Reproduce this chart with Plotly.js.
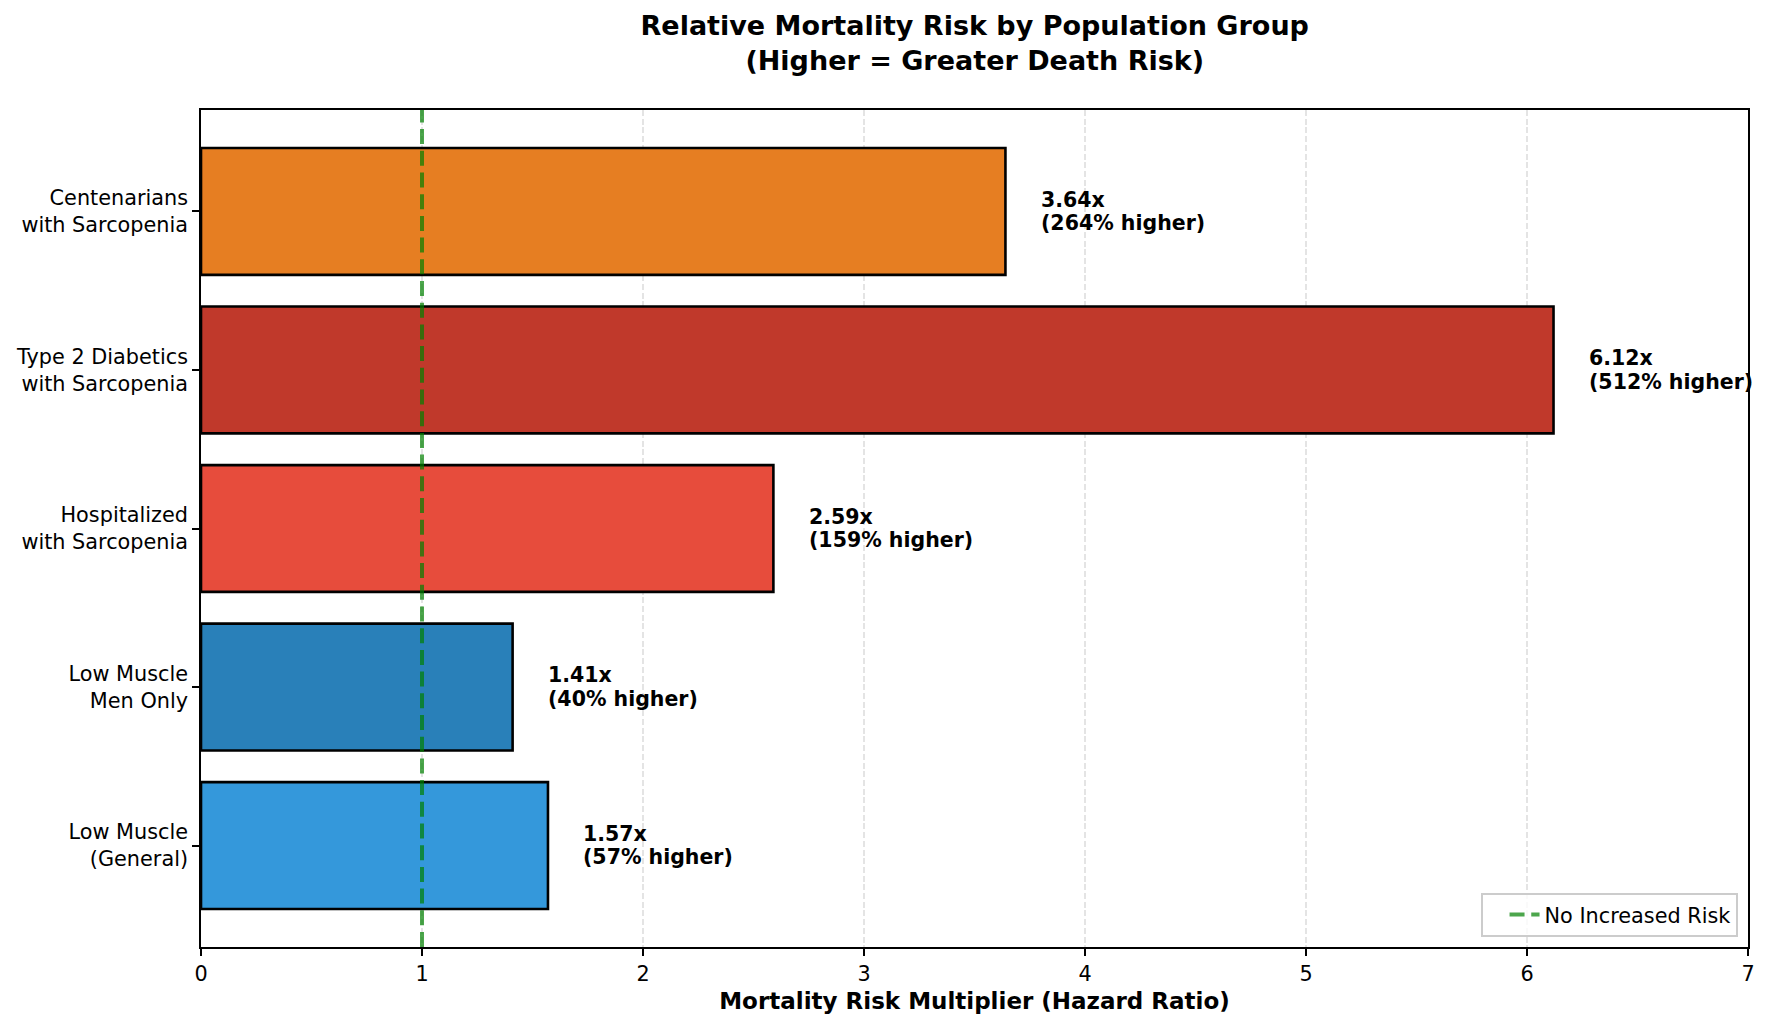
<!DOCTYPE html>
<html>
<head>
<meta charset="utf-8">
<script src="https://cdn.plot.ly/plotly-3.0.1.min.js"></script>
<style>
  html, body { margin: 0; padding: 0; background: #fff; }
  #chart { width: 1770px; height: 1029px; }
</style>
</head>
<body>
<div id="chart"></div>
<script>
// Population groups, listed bottom to top
const groups = [
  "Low Muscle<br>(General)",
  "Low Muscle<br>Men Only",
  "Hospitalized<br>with Sarcopenia",
  "Type 2 Diabetics<br>with Sarcopenia",
  "Centenarians<br>with Sarcopenia"
];
// Hazard ratios for each group
const hazardRatios = [1.57, 1.41, 2.59, 6.12, 3.64];
// Percent increase shown under each ratio
const percentHigher = [57, 40, 159, 512, 264];
// Bar fill colours
const barColors = ["#3498DB", "#2980B9", "#E74C3C", "#C0392B", "#E67E22"];
// Reference line: a hazard ratio of 1 means no added risk
const baselineRatio = 1;
const xTicks = [0, 1, 2, 3, 4, 5, 6, 7];

const FONT = "DejaVu Sans, Verdana, sans-serif";

const bars = {
  type: "bar",
  orientation: "h",
  x: hazardRatios,
  y: groups,
  width: 0.8,
  marker: { color: barColors, line: { color: "#000", width: 2.6 } },
  showlegend: false,
  hoverinfo: "x+y"
};

const baseline = {
  type: "scatter",
  mode: "lines",
  x: [baselineRatio, baselineRatio],
  y: [0, 1],
  yaxis: "y2",
  name: "No Increased Risk",
  line: { color: "rgba(0,128,0,0.7)", width: 4, dash: "15px,6.7px" },
  hoverinfo: "skip"
};

// Two-line value labels just past the end of each bar
const annotations = [];
hazardRatios.forEach((v, i) => {
  const common = {
    x: v + 0.15, y: groups[i], xref: "x", yref: "y",
    xanchor: "left", yanchor: "middle", showarrow: false,
    font: { family: FONT, size: 20.5, color: "#000", weight: "bold" }
  };
  annotations.push(Object.assign({}, common, { text: "<b>" + v.toFixed(2) + "x</b>", yshift: 11.7 }));
  annotations.push(Object.assign({}, common, { text: "<b>(" + percentHigher[i] + "% higher)</b>", yshift: -11.7 }));
});

const layout = {
  width: 1770,
  height: 1029,
  margin: { l: 201, r: 22, t: 109.5, b: 82 },
  paper_bgcolor: "#fff",
  plot_bgcolor: "#fff",
  font: { family: FONT, color: "#000", size: 20.8 },
  title: {
    text: "<b>Relative Mortality Risk by Population Group<br>(Higher = Greater Death Risk)</b>",
    font: { family: FONT, size: 27, color: "#000" },
    x: 0.5507, xanchor: "center",
    y: 1 - 34.6 / 1029, yanchor: "middle", yref: "container"
  },
  xaxis: {
    range: [0, 7],
    tickvals: xTicks,
    ticktext: xTicks.map(String),
    ticks: "outside", ticklen: 7, tickwidth: 1.6, tickcolor: "#000",
    tickfont: { family: FONT, size: 20.8, color: "#000" },
    showline: true, linecolor: "#000", linewidth: 1.6, mirror: true,
    showgrid: true, gridcolor: "#e4e4e4", gridwidth: 1.6, griddash: "6px,2.7px",
    zeroline: false,
    title: {
      text: "<b>Mortality Risk Multiplier (Hazard Ratio)</b>",
      font: { family: FONT, size: 23, color: "#000" },
      standoff: 8
    }
  },
  yaxis: {
    type: "category",
    categoryorder: "array",
    categoryarray: groups,
    range: [-0.64, 4.64],
    ticks: "outside", ticklen: 7, tickwidth: 1.6, tickcolor: "#000",
    tickfont: { family: FONT, size: 20.8, color: "#000" },
    ticklabelstandoff: 1.5,
    showline: true, linecolor: "#000", linewidth: 1.6, mirror: true,
    showgrid: false, zeroline: false
  },
  yaxis2: {
    overlaying: "y", range: [0, 1], visible: false, fixedrange: true
  },
  showlegend: true,
  legend: {
    x: 0.9935, xanchor: "right",
    y: 0.012, yanchor: "bottom",
    indentation: 22,
    bgcolor: "rgba(255,255,255,0.8)",
    bordercolor: "#cccccc", borderwidth: 1.6,
    font: { family: FONT, size: 20.8, color: "#000" }
  },
  annotations: annotations
};

Plotly.newPlot("chart", [bars, baseline], layout, { displayModeBar: false, responsive: false });
</script>
</body>
</html>
